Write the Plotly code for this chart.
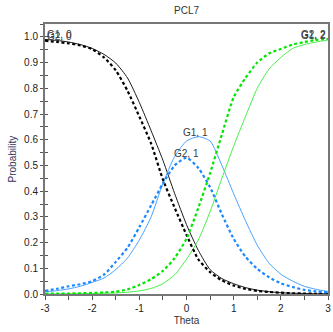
import plotly.graph_objects as go

theta = [-3, -2.75, -2.5, -2.25, -2, -1.75, -1.5, -1.25, -1, -0.75, -0.5, -0.25, 0,
         0.25, 0.5, 0.75, 1, 1.25, 1.5, 1.75, 2, 2.25, 2.5, 2.75, 3]

g1_c0 = [0.99, 0.986, 0.98, 0.97, 0.955, 0.932, 0.898, 0.84, 0.745, 0.635, 0.52, 0.39, 0.27,
         0.17, 0.095, 0.06, 0.04, 0.025, 0.015, 0.009, 0.005, 0.003, 0.002, 0.001, 0.001]
g2_c0 = [0.985, 0.98, 0.975, 0.967, 0.952, 0.92, 0.87, 0.79, 0.69, 0.585, 0.445, 0.335, 0.23,
         0.135, 0.085, 0.053, 0.033, 0.02, 0.012, 0.008, 0.005, 0.003, 0.002, 0.001, 0.001]
g1_c1 = [0.008, 0.013, 0.02, 0.03, 0.045, 0.062, 0.095, 0.14, 0.21, 0.30, 0.43, 0.535, 0.595,
         0.612, 0.595, 0.50, 0.39, 0.285, 0.19, 0.12, 0.077, 0.05, 0.03, 0.018, 0.01]
g2_c1 = [0.012, 0.02, 0.03, 0.038, 0.05, 0.075, 0.125, 0.18, 0.26, 0.345, 0.43, 0.50, 0.53,
         0.49, 0.415, 0.31, 0.215, 0.145, 0.098, 0.065, 0.042, 0.027, 0.016, 0.01, 0.006]
g1_c2 = [0.0005, 0.0007, 0.001, 0.0015, 0.002, 0.003, 0.004, 0.007, 0.012, 0.022, 0.04, 0.075, 0.135,
         0.21, 0.32, 0.45, 0.575, 0.69, 0.80, 0.875, 0.92, 0.955, 0.97, 0.98, 0.988]
g2_c2 = [0.001, 0.0015, 0.002, 0.003, 0.004, 0.006, 0.009, 0.018, 0.035, 0.058, 0.09, 0.14, 0.215,
         0.335, 0.47, 0.62, 0.765, 0.84, 0.90, 0.935, 0.953, 0.97, 0.98, 0.988, 0.992]

x_ticks = [-3, -2, -1, 0, 1, 2, 3]
y_ticks = [0.0, 0.1, 0.2, 0.3, 0.4, 0.5, 0.6, 0.7, 0.8, 0.9, 1.0]
y_tick_text = ["0.0", "0.1", "0.2", "0.3", "0.4", "0.5", "0.6", "0.7", "0.8", "0.9", "1.0"]

FONT = "Arial, Liberation Sans, sans-serif"

fig = go.Figure()

def add(y, color, dashed):
    if dashed:
        line = dict(color=color, width=2.2, dash="3px,2.5px", shape="spline", smoothing=0.6)
    else:
        line = dict(color=color, width=1, shape="spline", smoothing=0.6)
    fig.add_trace(go.Scatter(x=theta, y=y, mode="lines", line=line, showlegend=False,
                             hoverinfo="skip"))

add(g1_c0, "#1a1a1a", False)
add(g1_c1, "#4aa3ff", False)
add(g1_c2, "#48f048", False)
add(g2_c0, "#000000", True)
add(g2_c1, "#1a88ff", True)
add(g2_c2, "#00e600", True)

lab_font = dict(family=FONT, size=10, color="#3a3a3a")

def peak(vals):
    i = max(range(len(vals)), key=lambda k: vals[k])
    return theta[i], vals[i]

annos = []
annos.append(dict(x=theta[0], y=g1_c0[0], text="G1, 0", xanchor="left", yanchor="bottom"))
annos.append(dict(x=theta[0], y=g2_c0[0], text="G2, 0", xanchor="left", yanchor="bottom"))
annos.append(dict(x=theta[-1], y=g1_c2[-1], text="G1, 2", xanchor="right", yanchor="bottom"))
annos.append(dict(x=theta[-1], y=g2_c2[-1], text="G2, 2", xanchor="right", yanchor="bottom"))
px, py = peak(g1_c1)
annos.append(dict(x=px - 0.05, y=py, text="G1, 1", xanchor="center", yanchor="bottom"))
px, py = peak(g2_c1)
annos.append(dict(x=px, y=py, text="G2, 1", xanchor="center", yanchor="bottom"))
for a in annos:
    a.update(showarrow=False, font=lab_font, xref="x", yref="y", yshift=-3)

annos.append(dict(text="Probability", x=-0.115, y=0.5, xref="paper", yref="paper",
                  textangle=-90, showarrow=False, xanchor="center", yanchor="middle",
                  font=dict(family=FONT, size=10, color="#33335a")))

fig.update_layout(
    width=333, height=332,
    margin=dict(l=45, r=3, t=24, b=38),
    paper_bgcolor="white", plot_bgcolor="white",
    title=dict(text="PCL7", x=0.5, xref="paper", y=1 - 10 / 332, yanchor="middle",
               font=dict(family=FONT, size=10, color="#333333")),
    annotations=annos,
    xaxis=dict(range=[-3, 3], tickvals=x_ticks, ticktext=[str(v) for v in x_ticks],
               ticks="outside", ticklen=4, tickcolor="#555", showgrid=False, zeroline=False,
               showline=True, linecolor="#777", linewidth=2, mirror=True,
               minor=dict(dtick=0.5, ticks="outside", ticklen=4, tickcolor="#555"),
               tickfont=dict(family=FONT, size=10, color="#222"),
               title=dict(text="Theta", standoff=4, font=dict(family=FONT, size=10, color="#333"))),
    yaxis=dict(range=[0, 1.05], tickvals=y_ticks, ticktext=y_tick_text,
               ticks="outside", ticklen=3, tickcolor="#555", showgrid=False, zeroline=False,
               showline=True, linecolor="#777", linewidth=2, mirror=True,
               minor=dict(dtick=0.05, ticks="outside", ticklen=3, tickcolor="#555"),
               tickfont=dict(family=FONT, size=10, color="#222")),
    yaxis2=dict(range=[0, 1.05], overlaying="y", anchor="x", side="left",
                tickvals=[v / 20 for v in range(21)], ticks="inside", ticklen=3, tickcolor="#555",
                showticklabels=False, showgrid=False, zeroline=False, showline=False),
)
fig.add_trace(go.Scatter(x=[None], y=[None], yaxis="y2", showlegend=False, hoverinfo="skip"))

fig.write_html("out.html", config={"displayModeBar": False},
               post_script="document.body.style.margin='0';document.body.style.overflow='hidden';")
